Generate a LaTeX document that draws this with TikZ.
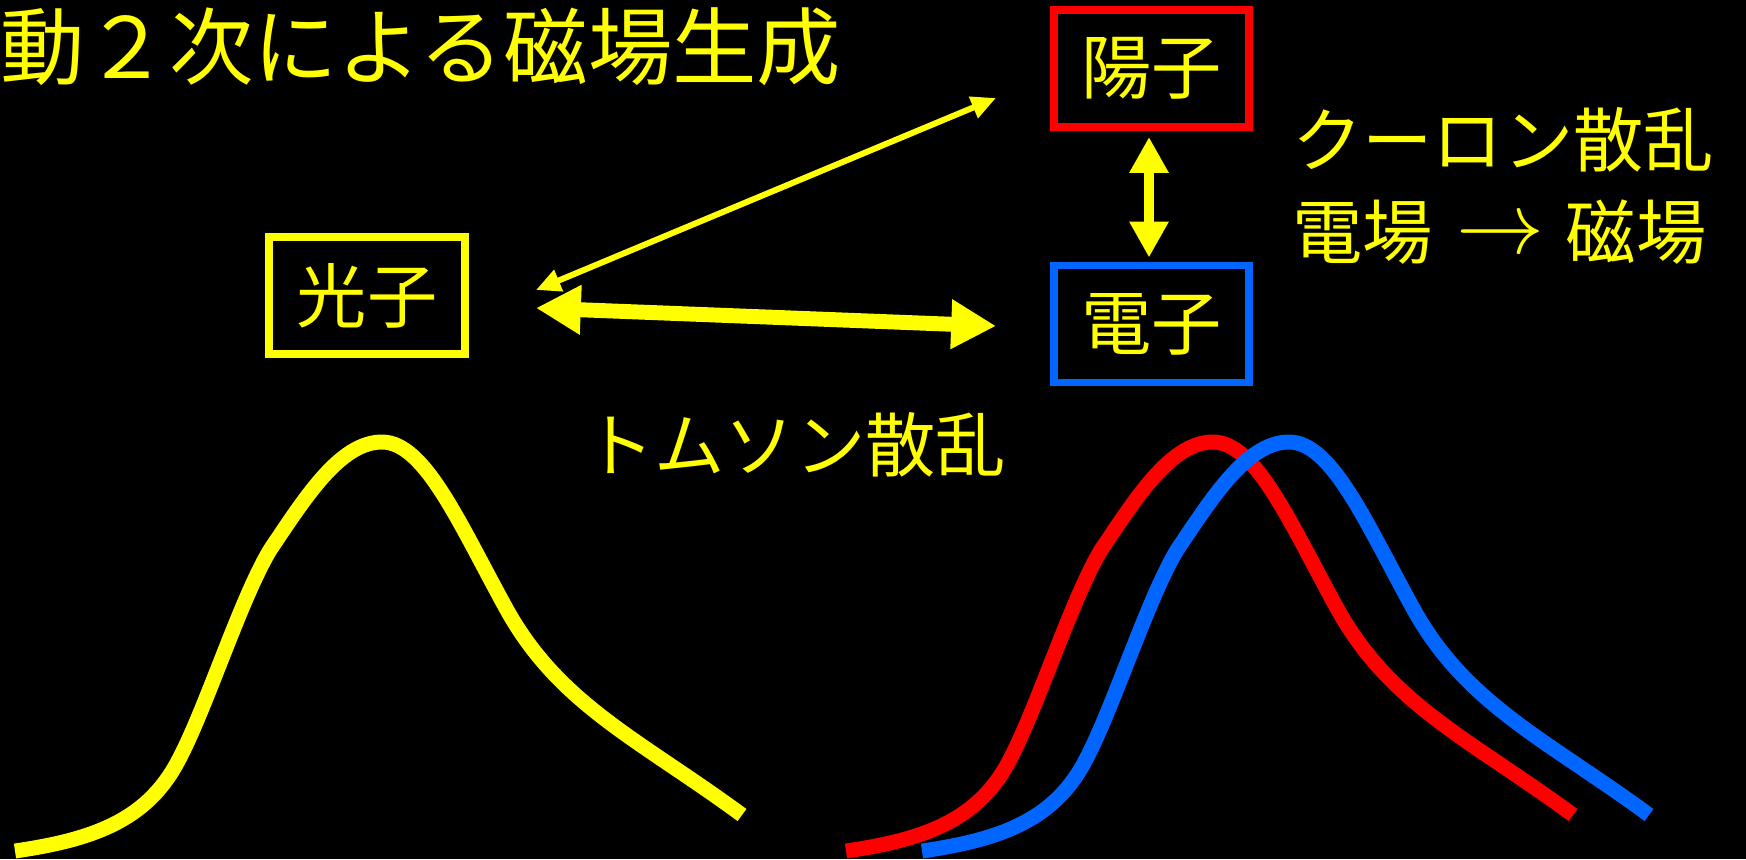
\documentclass[tikz,border=0pt]{standalone}
\usepackage{fontspec}
\newfontfamily\jp{Noto Sans CJK JP}
\usetikzlibrary{arrows.meta,calc}
\definecolor{cyel}{RGB}{255,255,0}
\definecolor{cred}{RGB}{255,0,0}
\definecolor{cblue}{RGB}{0,102,255}
\newcommand{\bigarrowsym}{\smash{\raisebox{3pt}{\scalebox{5}{\fontsize{10}{12}\selectfont$\rightarrow$}}}}
\begin{document}
\begin{tikzpicture}[x=0.02cm,y=-0.02cm,
  lbl/.style={text=cyel, font=\jp\fontsize{40}{48}\selectfont, inner sep=0pt},
  box/.style={draw=#1, line width=4.5pt, minimum width=3.92cm, minimum height=2.34cm,
    inner sep=0pt, outer sep=0pt, text=cyel, font=\jp\fontsize{40}{48}\selectfont},
  thinarrow/.style={draw=cyel, line width=3.4pt,
    {Triangle[length=14pt,width=12.5pt]}-{Triangle[length=14pt,width=12.5pt]}},
  thickarrow/.style={draw=cyel, line width=8.5pt,
    {Triangle[length=25.5pt,width=26.6pt]}-{Triangle[length=25.5pt,width=26.6pt]}},
  vertarrow/.style={draw=cyel, line width=6.2pt,
    {Triangle[length=20.4pt,width=21pt]}-{Triangle[length=20.4pt,width=21pt]}},
  spectrum/.style={line width=8.5pt, line cap=butt, line join=round}
]
\fill[black] (0,0) rectangle (1746,859);
\useasboundingbox (0,0) rectangle (1746,859);

% title
\node[lbl, font=\jp\fontsize{48}{56}\selectfont, anchor=west] (title) at (0,47) {動２次による磁場生成};

% boxes
\node[box=cyel] (photon) at (367,295.5) {光子};
\node[box=cred, minimum width=3.9cm] (proton) at (1151.5,68.5) {陽子};
\node[box=cblue, minimum width=3.9cm] (electron) at (1151.5,324) {電子};

% labels
\node[lbl, anchor=west] (coulomb) at (1292,140) {クーロン散乱};
\node[lbl, anchor=west] (field) at (1292,232) {電場\hspace{0.34em}\bigarrowsym\hspace{0.3em}磁場};
\node[lbl] (thomson) at (795,445) {トムソン散乱};

% arrows
\coordinate (ta) at ($(photon.east)+(71,-5.5)$);
\coordinate (tb) at ($(proton.west)+(-58,29.5)$);
\draw[thinarrow] (ta) -- (tb);
\coordinate (ka) at ($(photon.east)+(71,12.5)$);
\coordinate (kb) at ($(electron.west)+(-58,2)$);
\draw[thickarrow] (ka) -- (kb);
\coordinate (va) at ($(proton.south)+(-2.5,10)$);
\coordinate (vb) at ($(electron.north)+(-2.5,-8)$);
\draw[vertarrow] (va) -- (vb);

% spectra
\def\curve{(15,851) .. controls (90,840) and (145,822) .. (177,763)
  .. controls (205,712) and (240,600) .. (270,550)
  .. controls (305,498) and (340,442) .. (382,442)
  .. controls (425,442) and (460,525) .. (507,610)
  .. controls (560,705) and (640,740) .. (742,815)}
\draw[spectrum, cyel] \curve;
\begin{scope}[xshift=831*0.02cm]
\draw[spectrum, cred] \curve;
\end{scope}
\begin{scope}[xshift=907*0.02cm]
\draw[spectrum, cblue] \curve;
\end{scope}
\end{tikzpicture}
\end{document}
